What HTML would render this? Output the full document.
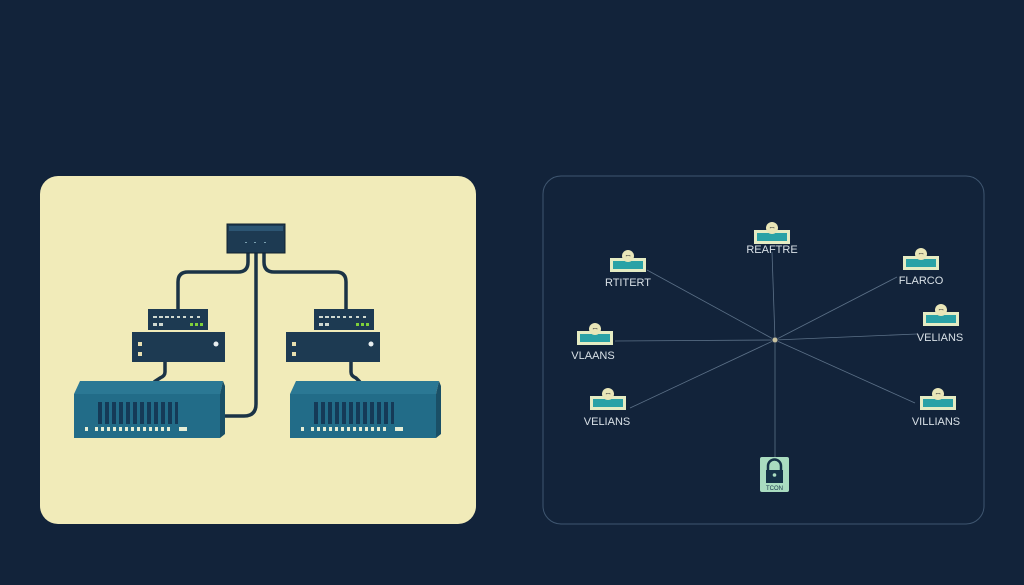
<!DOCTYPE html>
<html><head><meta charset="utf-8"><style>
html,body{margin:0;padding:0;background:#12233a;}
svg{display:block}
text{font-family:"Liberation Sans",sans-serif;}
</style></head><body>
<svg width="1024" height="585" viewBox="0 0 1024 585" xmlns="http://www.w3.org/2000/svg">
<rect width="1024" height="585" fill="#12233a"/>
<!-- left panel -->
<rect x="40" y="176" width="436" height="348" rx="18" fill="#f1ebb9"/>
<!-- cables -->
<g fill="none" stroke="#1b3346" stroke-width="3.5">
<path d="M248 252 V262 Q248 272 238 272 H188 Q178 272 178 282 V309"/>
<path d="M264 252 V262 Q264 272 274 272 H336 Q346 272 346 282 V309"/>
<path d="M256 252 V404 Q256 416 244 416 H222"/>
<path d="M165 362 V372 Q165 376 160 378 L154 382"/>
<path d="M351 362 V372 Q351 376 356 378 L360 382"/>
</g>
<!-- top router -->
<rect x="227" y="224" width="58" height="29" fill="#1d3a52" stroke="#0f2030" stroke-width="1"/>
<rect x="229" y="226" width="54" height="5" fill="#2c5573"/>
<g fill="#7aa0b0"><rect x="245" y="242" width="2" height="1"/><rect x="254" y="242" width="2" height="1"/><rect x="264" y="242" width="2" height="1"/></g>
<!-- small switches -->
<g>
<rect x="148" y="309" width="60" height="21" fill="#1d3a52"/>
<g fill="#cfd8d0"><rect x="153" y="316" width="4" height="2"/><rect x="159" y="316" width="4" height="2"/><rect x="165" y="316" width="4" height="2"/><rect x="171" y="316" width="3" height="2"/><rect x="177" y="316" width="3" height="2"/><rect x="183" y="316" width="3" height="2"/><rect x="190" y="316" width="3" height="2"/><rect x="197" y="316" width="3" height="2"/><rect x="153" y="323" width="4" height="3"/><rect x="159" y="323" width="4" height="3"/></g>
<g fill="#7fd03a"><rect x="190" y="323" width="3" height="3"/><rect x="195" y="323" width="3" height="3"/><rect x="200" y="323" width="3" height="3"/></g>
<rect x="314" y="309" width="60" height="21" fill="#1d3a52"/>
<g fill="#cfd8d0"><rect x="319" y="316" width="4" height="2"/><rect x="325" y="316" width="4" height="2"/><rect x="331" y="316" width="4" height="2"/><rect x="337" y="316" width="3" height="2"/><rect x="343" y="316" width="3" height="2"/><rect x="349" y="316" width="3" height="2"/><rect x="356" y="316" width="3" height="2"/><rect x="363" y="316" width="3" height="2"/><rect x="319" y="323" width="4" height="3"/><rect x="325" y="323" width="4" height="3"/></g>
<g fill="#7fd03a"><rect x="356" y="323" width="3" height="3"/><rect x="361" y="323" width="3" height="3"/><rect x="366" y="323" width="3" height="3"/></g>
</g>
<!-- mid boxes -->
<rect x="132" y="332" width="93" height="30" fill="#1d3a52"/>
<rect x="138" y="342" width="4" height="4" fill="#e8dfb0"/><rect x="138" y="352" width="4" height="4" fill="#e8dfb0"/>
<circle cx="216" cy="344" r="2.5" fill="#e8eef0"/>
<rect x="286" y="332" width="94" height="30" fill="#1d3a52"/>
<rect x="292" y="342" width="4" height="4" fill="#e8dfb0"/><rect x="292" y="352" width="4" height="4" fill="#e8dfb0"/>
<circle cx="371" cy="344" r="2.5" fill="#e8eef0"/>
<!-- big boxes -->
<g id="bb">
<polygon points="80,381 223,381 220,394 74,394" fill="#2b7894"/>
<polygon points="220,394 223,381 225,386 225,434 220,438" fill="#1a4f66"/>
<rect x="74" y="394" width="146" height="44" fill="#226c88"/>
<g fill="#153a57">
<rect x="98" y="402" width="4" height="22"/><rect x="105" y="402" width="4" height="22"/><rect x="112" y="402" width="4" height="22"/><rect x="119" y="402" width="4" height="22"/><rect x="126" y="402" width="4" height="22"/><rect x="133" y="402" width="4" height="22"/><rect x="140" y="402" width="4" height="22"/><rect x="147" y="402" width="4" height="22"/><rect x="154" y="402" width="4" height="22"/><rect x="161" y="402" width="4" height="22"/><rect x="168" y="402" width="4" height="22"/><rect x="175" y="402" width="3" height="22"/>
</g>
<g fill="#e6eed6">
<rect x="85" y="427" width="3" height="4"/><rect x="95" y="427" width="3" height="4"/><rect x="101" y="427" width="3" height="4"/><rect x="107" y="427" width="3" height="4"/><rect x="113" y="427" width="3" height="4"/><rect x="119" y="427" width="3" height="4"/><rect x="125" y="427" width="3" height="4"/><rect x="131" y="427" width="3" height="4"/><rect x="137" y="427" width="3" height="4"/><rect x="143" y="427" width="3" height="4"/><rect x="149" y="427" width="3" height="4"/><rect x="155" y="427" width="3" height="4"/><rect x="161" y="427" width="3" height="4"/><rect x="167" y="427" width="3" height="4"/><rect x="179" y="427" width="8" height="4"/>
</g>
</g>
<use href="#bb" transform="translate(216,0)"/>
<!-- right panel -->
<rect x="543" y="176" width="441" height="348" rx="18" fill="none" stroke="#3f5670" stroke-width="1"/>
<g stroke="#5b7087" stroke-width="0.8">
<line x1="775" y1="340" x2="772" y2="252"/>
<line x1="775" y1="340" x2="647" y2="270"/>
<line x1="775" y1="340" x2="897" y2="277"/>
<line x1="775" y1="340" x2="615" y2="341"/>
<line x1="775" y1="340" x2="917" y2="334"/>
<line x1="775" y1="340" x2="630" y2="408"/>
<line x1="775" y1="340" x2="915" y2="403"/>
<line x1="775" y1="340" x2="775" y2="457"/>
</g>
<circle cx="775" cy="340" r="3" fill="#c9c2a0" stroke="#2a3a50"/>
<defs>
<g id="ic">
<rect x="-18" y="-6" width="36" height="14" fill="#e5ecc3"/>
<rect x="-15" y="-3" width="30" height="8" fill="#2aa2a6"/>
<circle cx="0" cy="-8" r="6" fill="#e9e6b8"/>
<text x="0" y="-6" font-size="6" fill="#333" text-anchor="middle">ꟷ</text>
</g>
</defs>
<use href="#ic" x="772" y="236"/>
<use href="#ic" x="628" y="264"/>
<use href="#ic" x="921" y="262"/>
<use href="#ic" x="595" y="337"/>
<use href="#ic" x="941" y="318"/>
<use href="#ic" x="608" y="402"/>
<use href="#ic" x="938" y="402"/>
<g fill="#d8e0e6" font-size="11" text-anchor="middle">
<text x="772" y="253">REAFTRE</text>
<text x="628" y="286">RTITERT</text>
<text x="921" y="284">FLARCO</text>
<text x="593" y="359">VLAANS</text>
<text x="940" y="341">VELIANS</text>
<text x="607" y="425">VELIANS</text>
<text x="936" y="425">VILLIANS</text>
</g>
<!-- lock -->
<rect x="760" y="457" width="29" height="35" rx="2" fill="#a9dcc0"/>
<path d="M768 470 V466 a6.5 6.5 0 0 1 13 0 V470" fill="none" stroke="#143247" stroke-width="2.5"/>
<rect x="766" y="470" width="17" height="13" fill="#143247"/>
<circle cx="774.5" cy="475" r="1.8" fill="#a9dcc0"/>
<text x="774.5" y="490" font-size="6" fill="#143247" text-anchor="middle">TCON</text>
</svg>
</body></html>
